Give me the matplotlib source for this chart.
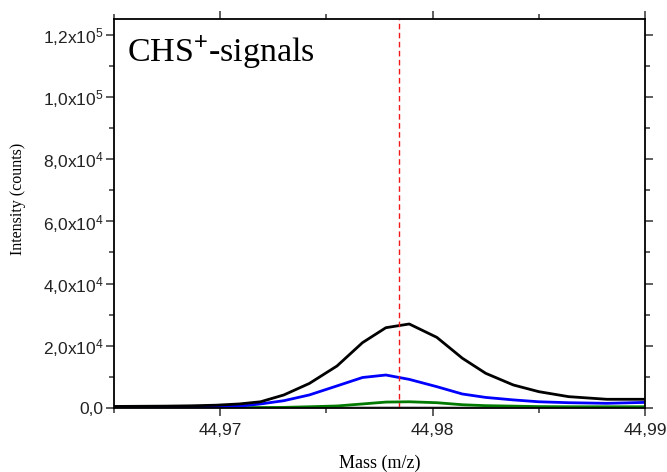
import matplotlib
matplotlib.use("Agg")
import matplotlib.pyplot as plt
from matplotlib.ticker import FixedLocator, MultipleLocator, FuncFormatter

# mass axis (m/z) shared by all traces
mass = [44.9650, 44.9662, 44.9674, 44.9686, 44.9698, 44.9709, 44.9719, 44.9730,
        44.9742, 44.9755, 44.9767, 44.9778, 44.9789, 44.9802, 44.9814, 44.9825,
        44.9838, 44.9850, 44.9864, 44.9882, 44.9900]

black = [500, 550, 600, 700, 900, 1300, 2000, 4200, 7900, 13500, 21000, 25800,
         27000, 22700, 16000, 11150, 7400, 5250, 3650, 2800, 2800]
blue = [300, 300, 320, 350, 400, 600, 1300, 2350, 4200, 7100, 9800, 10600,
        9200, 6850, 4500, 3400, 2600, 2000, 1700, 1500, 1800]
green = [100, 100, 100, 100, 100, 120, 150, 200, 400, 650, 1300, 1900,
         2000, 1700, 1050, 750, 600, 450, 400, 400, 400]
gray = [80, 80, 80, 80, 80, 80, 90, 100, 120, 150, 180, 200,
        200, 180, 150, 120, 100, 90, 80, 80, 80]

marker_mass = 44.9784

plt.rcParams['mathtext.fontset'] = 'custom'
plt.rcParams['mathtext.rm'] = 'Liberation Sans'
plt.rcParams['mathtext.it'] = 'Liberation Sans'

fig = plt.figure(figsize=(6.67, 4.72), dpi=100)
ax = fig.add_axes([0.1709, 0.1356, 0.7961, 0.8241])

ax.plot(mass, gray, color="#999999", linewidth=1.5)
ax.plot(mass, green, color="#007a00", linewidth=2.0)
ax.plot(mass, blue, color="#0000ff", linewidth=2.0)
ax.plot(mass, black, color="black", linewidth=2.0)
ax.axvline(marker_mass, color="#f01818", linestyle=(0, (4, 2.5)), linewidth=1.0)

ax.set_xlim(44.965, 44.990)
ax.set_ylim(0, 1.25e5)

ax.xaxis.set_major_locator(FixedLocator([44.97, 44.98, 44.99]))
ax.xaxis.set_minor_locator(FixedLocator([44.965, 44.975, 44.985]))
ax.yaxis.set_major_locator(MultipleLocator(2e4))
ax.yaxis.set_minor_locator(MultipleLocator(1e4))


def yfmt(v, pos):
    if v == 0:
        return "0,0"
    exp = int(len(str(int(v))) - 1)
    mant = v / 10 ** exp
    s = f"{mant:.1f}".replace(".", "{,}")
    return r"$\mathregular{" + s + r"x10^{" + str(exp) + r"}}$"


ax.yaxis.set_major_formatter(FuncFormatter(yfmt))
ax.xaxis.set_major_formatter(FuncFormatter(lambda v, p: f"{v:.2f}".replace(".", ",")))

ax.tick_params(which="both", direction="out", top=True, right=True,
               labeltop=False, labelright=False, width=1.1, color="#333333")
ax.tick_params(which="major", length=5.5, labelsize=12.5)
ax.tick_params(axis="x", which="major", pad=5)
ax.tick_params(axis="y", which="major", pad=2)
ax.tick_params(which="minor", length=3.5)
for lab in ax.get_xticklabels() + ax.get_yticklabels():
    lab.set_family("Liberation Sans")
    lab.set_color("#222222")
for sp in ax.spines.values():
    sp.set_linewidth(1.3)

ax.set_xlabel("Mass (m/z)", family="Liberation Serif", fontsize=13, labelpad=12)
ax.set_ylabel("Intensity (counts)", family="Liberation Serif", fontsize=11.5)
ax.yaxis.set_label_coords(-0.166, 0.537)

ax.text(0.025, 0.89, r"CHS$^{+}$-signals", transform=ax.transAxes,
        family="Liberation Serif", fontsize=24.5, va="baseline", ha="left",
        math_fontfamily="custom")

fig.savefig("out.png", dpi=100)
